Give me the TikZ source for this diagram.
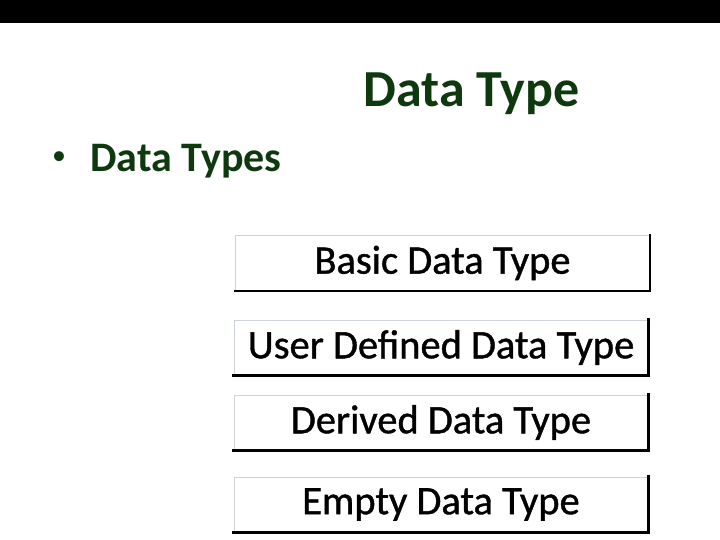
\documentclass[tikz,border=0pt]{standalone}
\usepackage{fontspec}
\setmainfont{Carlito}
\definecolor{titlegreen}{RGB}{14,56,14}
\definecolor{edgegray}{RGB}{205,210,222}

\tikzset{
    typebox/.style={draw=edgegray, line width=1pt, fill=white, minimum width=414pt,
        minimum height=55pt, inner sep=0pt,
        font=\fontsize{40.5}{46}\selectfont\addfontfeature{FakeBold=1}},
    boxshadow/.style={line width=2.5pt, line cap=rect}
}

\begin{document}
\begin{tikzpicture}[x=1pt, y=-1pt]
    \useasboundingbox (0,0) rectangle (720,540);
    \fill[black] (0,0) rectangle (720,23);

    \node[anchor=base, text=titlegreen, font=\fontsize{52}{60}\selectfont\bfseries] (title) at (471.5,107) {Data Type};
    \node[anchor=base west, text=titlegreen, font=\fontsize{42}{50}\selectfont\bfseries] (item) at (87,172) {Data Types};
    \node[anchor=base, text=titlegreen, font=\fontsize{28}{34}\selectfont] (dot) at (59,165) {•};

    \node[typebox] (B1) at (442.5,263) {Basic Data Type};
    \node[typebox] (B2) at (441,347.5) {User Defined Data Type};
    \node[typebox] (B3) at (441,422.5) {Derived Data Type};
    \node[typebox] (B4) at (441,504.5) {Empty Data Type};

    \draw[boxshadow] (B1.north east) -- (B1.south east) -- (B1.south west);
    \draw[boxshadow] (B2.north east) -- (B2.south east) -- (B2.south west);
    \draw[boxshadow] (B3.north east) -- (B3.south east) -- (B3.south west);
    \draw[boxshadow] (B4.north east) -- (B4.south east) -- (B4.south west);

\end{tikzpicture}
\end{document}
